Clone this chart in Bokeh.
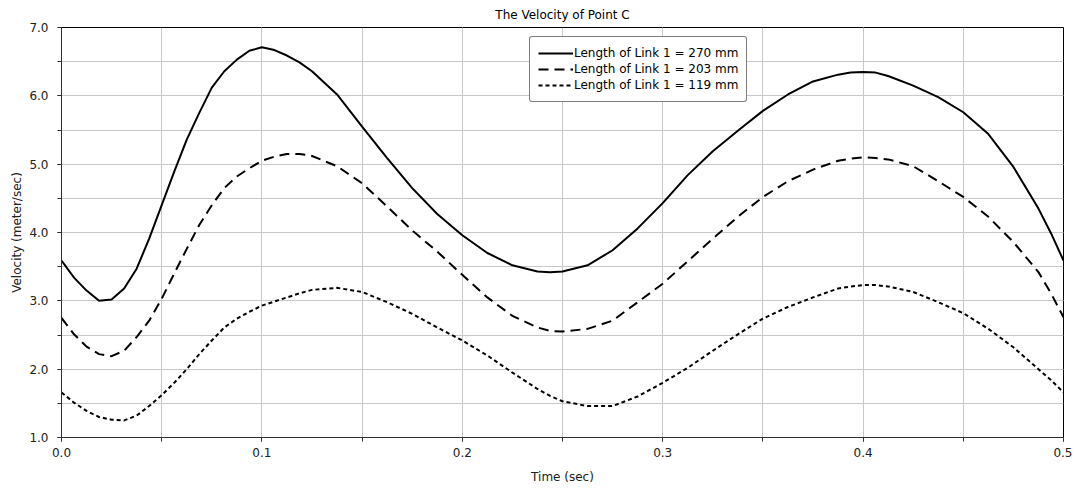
from bokeh.plotting import figure
from bokeh.models import Range1d, SingleIntervalTicker, NumeralTickFormatter
from bokeh.embed import file_html
from bokeh.resources import INLINE

time_s = [0.0, 0.00625, 0.0125, 0.01875, 0.025, 0.03125, 0.0375, 0.04375, 0.05,
          0.05625, 0.0625, 0.06875, 0.075, 0.08125, 0.0875, 0.09375, 0.1,
          0.10625, 0.1125, 0.11875, 0.125, 0.1375, 0.15, 0.1625, 0.175, 0.1875,
          0.2, 0.2125, 0.225, 0.2375, 0.24375, 0.25, 0.2625, 0.275, 0.2875, 0.3,
          0.3125, 0.325, 0.3375, 0.35, 0.3625, 0.375, 0.3875, 0.39375, 0.4,
          0.40625, 0.4125, 0.425, 0.4375, 0.45, 0.4625, 0.475, 0.4875, 0.49375,
          0.5]

v_270 = [3.59, 3.34, 3.15, 3.00, 3.02, 3.18, 3.47, 3.91, 4.40,
         4.89, 5.36, 5.75, 6.12, 6.36, 6.53, 6.66, 6.71,
         6.67, 6.59, 6.49, 6.36, 6.02, 5.55, 5.09, 4.65, 4.27,
         3.96, 3.70, 3.52, 3.43, 3.42, 3.43, 3.52, 3.74, 4.06, 4.43,
         4.84, 5.19, 5.49, 5.78, 6.02, 6.21, 6.31, 6.34, 6.35,
         6.34, 6.29, 6.15, 5.98, 5.76, 5.44, 4.96, 4.35, 3.99,
         3.59]

v_203 = [2.75, 2.51, 2.33, 2.22, 2.19, 2.27, 2.47, 2.71, 3.03,
         3.40, 3.76, 4.11, 4.40, 4.65, 4.82, 4.94, 5.05,
         5.11, 5.15, 5.15, 5.12, 4.97, 4.72, 4.38, 4.03, 3.72,
         3.38, 3.05, 2.78, 2.61, 2.56, 2.55, 2.59, 2.71, 2.98, 3.25,
         3.58, 3.91, 4.23, 4.52, 4.75, 4.92, 5.05, 5.08, 5.10,
         5.09, 5.07, 4.97, 4.75, 4.52, 4.23, 3.86, 3.42, 3.11,
         2.76]

v_119 = [1.66, 1.51, 1.39, 1.30, 1.26, 1.25, 1.32, 1.46, 1.62,
         1.80, 2.00, 2.22, 2.42, 2.61, 2.74, 2.84, 2.93,
         2.99, 3.05, 3.11, 3.16, 3.19, 3.13, 2.98, 2.81, 2.61,
         2.42, 2.20, 1.95, 1.71, 1.61, 1.53, 1.46, 1.46, 1.60, 1.80,
         2.02, 2.27, 2.51, 2.74, 2.91, 3.05, 3.18, 3.21, 3.23,
         3.23, 3.21, 3.13, 2.98, 2.82, 2.59, 2.32, 2.00, 1.84,
         1.66]

series_labels = ["Length of Link 1 = 270 mm",
                 "Length of Link 1 = 203 mm",
                 "Length of Link 1 = 119 mm"]

FONT = "DejaVu Sans"
GRID = "#c8c8c8"

p = figure(width=1072, height=486, output_backend="svg", toolbar_location=None,
           x_range=Range1d(0, 0.5), y_range=Range1d(1, 7),
           title="The Velocity of Point C",
           min_border_left=61, min_border_right=9, min_border_top=0,
           min_border_bottom=48)

p.title.align = "center"
p.title.text_font = FONT
p.title.text_font_size = "12px"
p.title.text_font_style = "normal"
p.title.text_color = "black"
p.title.offset = 0
p.title.standoff = 11

p.outline_line_color = "black"
p.outline_line_width = 1
p.background_fill_color = "white"
p.border_fill_color = "white"

p.xaxis.ticker = SingleIntervalTicker(interval=0.1, num_minor_ticks=2)
p.yaxis.ticker = SingleIntervalTicker(interval=1, num_minor_ticks=2)
p.xaxis.formatter = NumeralTickFormatter(format="0.0")
p.yaxis.formatter = NumeralTickFormatter(format="0.0")

for ax in (p.xaxis, p.yaxis):
    ax.axis_line_color = "#303030"
    ax.major_tick_line_color = "#303030"
    ax.minor_tick_line_color = "#303030"
    ax.major_tick_in = 0
    ax.minor_tick_in = 0
    ax.major_tick_out = 4
    ax.minor_tick_out = 4
    ax.major_label_text_font = FONT
    ax.major_label_text_font_size = "12px"
    ax.major_label_text_color = "#202020"
    ax.axis_label_text_font = FONT
    ax.axis_label_text_font_size = "12px"
    ax.axis_label_text_font_style = "normal"
    ax.axis_label_text_color = "#202020"

p.xaxis.axis_label = "Time (sec)"
p.yaxis.axis_label = "Velocity (meter/sec)"
p.xaxis.major_label_standoff = 6
p.yaxis.major_label_standoff = 9
p.xaxis.axis_label_standoff = 10
p.yaxis.axis_label_standoff = 2

for g in (p.xgrid, p.ygrid):
    g.grid_line_color = GRID
    g.minor_grid_line_color = GRID
    g.grid_line_width = 1
    g.minor_grid_line_width = 1

p.line(time_s, v_270, line_color="black", line_width=2, legend_label=series_labels[0])
p.line(time_s, v_203, line_color="black", line_width=2, line_dash="10 6",
       legend_label=series_labels[1])
p.line(time_s, v_119, line_color="black", line_width=2, line_dash="4 3",
       legend_label=series_labels[2])

lg = p.legend[0]
lg.location = (468, 335)
lg.border_line_color = "black"
lg.border_line_width = 1
lg.background_fill_color = "white"
lg.background_fill_alpha = 1
lg.label_text_font = FONT
lg.label_text_font_size = "12px"
lg.label_text_color = "black"
lg.glyph_width = 35
lg.glyph_height = 16
lg.label_height = 16
lg.label_standoff = 1
lg.spacing = 0
lg.padding = 8
lg.margin = 0
lg.border_radius = 3

open("out.html", "w").write(file_html(p, INLINE))
